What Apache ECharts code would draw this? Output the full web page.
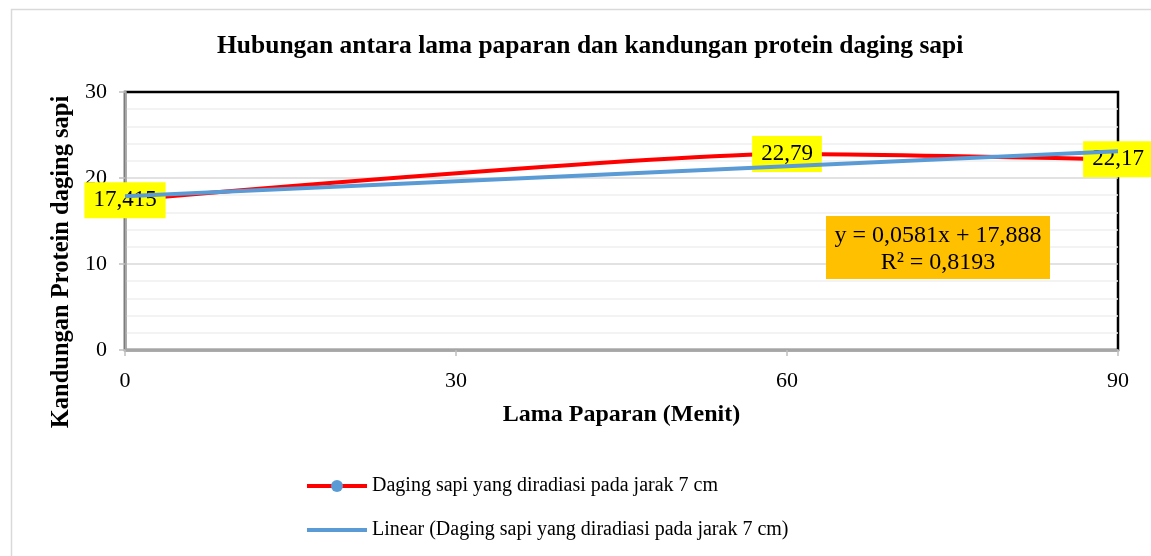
<!DOCTYPE html>
<html><head><meta charset="utf-8">
<script src="https://cdn.jsdelivr.net/npm/echarts@6/dist/echarts.min.js"></script>
<style>html,body{margin:0;padding:0;background:#fff}#c{width:1151px;height:556px}</style>
</head><body><div id="c"></div>
<script>
var xValues = [0, 60, 90];
var proteinValues = [17.415, 22.79, 22.17];
var trendX = [0, 90];
var trendY = [17.888, 23.117];
var xTicks = [0, 30, 60, 90];
var yTicks = [0, 10, 20, 30];
var seriesName = 'Daging sapi yang diradiasi pada jarak 7 cm';
var trendName = 'Linear (Daging sapi yang diradiasi pada jarak 7 cm)';
var equationText = 'y = 0,0581x + 17,888\nR² = 0,8193';

var FONT = '"Liberation Serif", "DejaVu Serif", serif';
var chart = echarts.init(document.getElementById('c'));
chart.setOption({
  animation: false,
  backgroundColor: '#fff',
  title: {
    text: 'Hubungan antara lama paparan dan kandungan protein daging sapi',
    left: 212, top: 28,
    textStyle: {fontFamily: FONT, fontSize: 25.5, fontWeight: 'bold', color: '#000'}
  },
  graphic: [
    {type: 'rect', left: 9, top: 7, shape: {width: 1160, height: 560}, style: {fill: 'none', stroke: '#d9d9d9', lineWidth: 1.5}, silent: true, z: 0},
    {type: 'rect', x: 826, y: 216, z: 10, shape: {width: 224, height: 63}, style: {fill: '#FFC000'}},
    {type: 'text', x: 938, y: 222, z: 11,
     style: {text: equationText, font: '24px ' + FONT, fill: '#000', align: 'center', verticalAlign: 'top', lineHeight: 27}}
  ],
  grid: {left: 125, right: 33, top: 92, bottom: 206, show: true, borderColor: '#000', borderWidth: 2.5},
  legend: {
    orient: 'vertical', left: 300, top: 471, itemWidth: 60, itemHeight: 15, itemGap: 24,
    lineStyle: {width: 4},
    textStyle: {fontFamily: FONT, fontSize: 20, color: '#000'},
    data: [{name: seriesName}, {name: trendName, itemStyle: {opacity: 0}}]
  },
  xAxis: {
    type: 'value', min: 0, max: 90, interval: 30,
    name: 'Lama Paparan (Menit)', nameLocation: 'middle', nameGap: 53,
    nameTextStyle: {fontFamily: FONT, fontSize: 24, fontWeight: 'bold', color: '#000'},
    axisLine: {show: true, lineStyle: {color: '#a6a6a6', width: 2.5}},
    axisTick: {show: true, inside: false, length: 6, lineStyle: {color: '#bfbfbf', width: 1.5}},
    axisLabel: {fontFamily: FONT, fontSize: 22, color: '#000', margin: 20,
      formatter: function (v) { return xTicks.indexOf(v) >= 0 ? String(v) : ''; }},
    splitLine: {show: false}
  },
  yAxis: {
    type: 'value', min: 0, max: 30, interval: 10,
    name: 'Kandungan Protein daging sapi', nameLocation: 'middle', nameGap: 51,
    nameTextStyle: {fontFamily: FONT, fontSize: 24.5, fontWeight: 'bold', color: '#000', padding: [0, 82, 0, 0]},
    axisLine: {show: true, lineStyle: {color: '#a6a6a6', width: 2.5}},
    axisTick: {show: true, inside: false, length: 6, lineStyle: {color: '#bfbfbf', width: 1.5}},
    axisLabel: {fontFamily: FONT, fontSize: 22, color: '#000', margin: 18,
      formatter: function (v) { return yTicks.indexOf(v) >= 0 ? String(v) : ''; }},
    splitLine: {show: true, showMaxLine: false, lineStyle: {color: '#d9d9d9', width: 1.5}},
    minorTick: {show: false, splitNumber: 5},
    minorSplitLine: {show: true, lineStyle: {color: '#efefef', width: 1.5}}
  },
  series: [
    {
      name: seriesName, type: 'line', z: 2,
      data: xValues.map(function (x, i) { return {value: [x, proteinValues[i]], symbolSize: 0}; }),
      smooth: 0.2, showSymbol: true, symbol: 'circle', symbolSize: 12,
      itemStyle: {color: '#5B9BD5'},
      lineStyle: {color: '#FF0000', width: 4},
      label: {show: true, position: 'inside', fontFamily: FONT, fontSize: 23, color: '#000',
        backgroundColor: '#FFFF00', padding: [7, 9, 6, 9],
        formatter: function (p) { return String(p.value[1]).replace('.', ','); }}
    },
    {
      name: trendName, type: 'line', z: 3,
      data: trendX.map(function (x, i) { return [x, trendY[i]]; }),
      showSymbol: false, symbol: 'none',
      itemStyle: {color: '#5B9BD5'},
      lineStyle: {color: '#5B9BD5', width: 4}
    }
  ]
});
</script></body></html>
